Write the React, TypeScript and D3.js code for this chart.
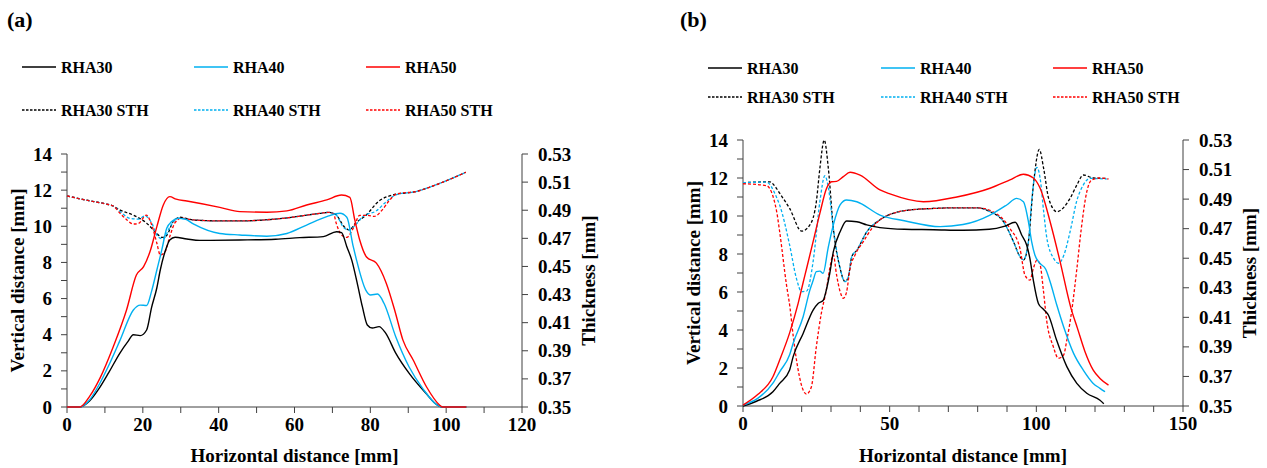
import React from 'react';
import * as d3 from 'd3';

type Pt = [number, number];

// ---- panel (a) : vertical distance [mm] vs horizontal distance [mm]
const rha30A: Pt[] = [[0,0],[3.4,0],[6,0.35],[8.7,1.1],[11,1.9],[14,3.0],[16,3.6],[17.5,4.0],[19.3,3.95],[21,4.26],[22.3,5.5],[23.7,6.6],[24.6,7.58],[26.3,8.87],[27.1,9.24],[28.5,9.39],[31.6,9.3],[35,9.22],[45.6,9.24],[55,9.28],[61.4,9.37],[67.6,9.43],[71.1,9.7],[72.4,9.65],[73.8,8.87],[75.1,8.13],[76.5,6.9],[77.9,5.55],[79.2,4.54],[80.5,4.37],[82.3,4.45],[84,4.1],[86.7,2.98],[90.2,1.87],[94.6,0.77],[97.7,0.1],[99,0],[105.3,0]];
const rha40A: Pt[] = [[0,0],[3.4,0],[6,0.4],[8.7,1.33],[11,2.3],[14,3.7],[17.5,5.37],[19.3,5.64],[21,5.62],[22.3,6.4],[23.7,7.58],[25,8.69],[26.3,9.89],[27.6,10.26],[29.4,10.44],[31.1,10.4],[33.3,10.13],[40.3,9.6],[45.6,9.52],[52.7,9.45],[58,9.6],[63.2,10.07],[68.5,10.53],[72,10.72],[73.8,10.5],[75.5,8.87],[76.4,8.1],[78.8,6.47],[80.1,6.2],[81.9,6.25],[83.6,5.74],[86.7,3.89],[90.2,2.23],[93.8,1.03],[97.7,0.1],[99,0],[105.3,0]];
const rha50A: Pt[] = [[0,0],[3.4,0],[6,0.6],[8.7,1.6],[12.2,3.34],[15.7,5.37],[18.3,7.3],[20.2,7.77],[21.9,8.6],[23.7,9.98],[25.4,11.18],[27.1,11.64],[28.8,11.5],[31.6,11.4],[40.3,11.05],[45.6,10.81],[52.7,10.78],[58,10.85],[63.2,11.18],[68.5,11.46],[72.4,11.73],[74.6,11.6],[75.9,10.35],[77.2,9.24],[79,8.3],[81.6,7.96],[84.2,6.85],[86.5,5.3],[88.6,3.7],[91.3,2.6],[94.8,1.12],[98.3,0.1],[99,0],[105.3,0]];

// thickness [mm]
const sth30A: Pt[] = [[0,0.5002],[5,0.4972],[10,0.4946],[12.2,0.4930],[14,0.4901],[17.5,0.4865],[21,0.4808],[23.7,0.4734],[25,0.4707],[26.3,0.4721],[28,0.4819],[29.8,0.4850],[33.3,0.4831],[40.3,0.4824],[45.6,0.4824],[56.8,0.4842],[66.8,0.4878],[69.1,0.4885],[70.9,0.4869],[73.1,0.4783],[74.4,0.4760],[76.2,0.4811],[78.8,0.4863],[82.3,0.4966],[85.8,0.5008],[92,0.5033],[98,0.5088],[105.2,0.5170]];
const sth40A: Pt[] = [[0,0.5002],[5,0.4972],[10,0.4946],[12.2,0.4930],[13.8,0.4895],[16.6,0.4842],[18.8,0.4837],[20.6,0.4859],[22.3,0.4811],[24,0.4712],[25.4,0.4696],[27.1,0.4779],[29.4,0.4844],[33.3,0.4831],[40.3,0.4824],[45.6,0.4824],[56.8,0.4842],[66.8,0.4878],[69.1,0.4885],[70.9,0.4869],[73.1,0.4773],[74.4,0.4760],[76.2,0.4799],[78,0.4854],[81.6,0.4896],[84.2,0.4961],[86.9,0.5011],[92,0.5033],[98,0.5088],[105.2,0.5170]];
const sth50A: Pt[] = [[0,0.5002],[5,0.4972],[10,0.4946],[12.2,0.4930],[14,0.4878],[15.8,0.4831],[17.5,0.4802],[18.8,0.4805],[20.9,0.4865],[22.3,0.4799],[23.7,0.4665],[24.6,0.4581],[25.9,0.4606],[27.1,0.4712],[28.5,0.4811],[30.2,0.4844],[33.3,0.4831],[40.3,0.4824],[45.6,0.4824],[56.8,0.4842],[66.8,0.4878],[69.1,0.4885],[70.3,0.4876],[71,0.4808],[72.4,0.4724],[73.8,0.4707],[75.5,0.4773],[77.2,0.4863],[79.3,0.4863],[81,0.4856],[83.1,0.4901],[84.9,0.4966],[87,0.5017],[92,0.5033],[98,0.5088],[105.2,0.5170]];

// ---- panel (b)
const rha30B: Pt[] = [[0,0],[4.6,0.25],[10.2,0.75],[12.5,1.19],[15.9,1.9],[17.1,2.6],[20.5,3.82],[23.9,5.05],[25.6,5.4],[27.3,5.55],[28.4,6.1],[29.6,7.0],[30.8,8.12],[33.1,9.17],[35.3,9.74],[38.8,9.7],[42.2,9.53],[46.7,9.39],[55,9.3],[65,9.28],[75,9.25],[84,9.3],[89,9.45],[92.8,9.67],[95,9.0],[96.7,8.47],[97.8,7.77],[99,6.6],[100.7,5.4],[102.4,5.09],[104.1,4.79],[106.9,3.47],[110.4,2.07],[113.8,1.19],[117.2,0.67],[121.7,0.3],[123,0.12]];
const rha40B: Pt[] = [[0,0.05],[5,0.4],[10.2,1.2],[12.5,1.8],[15.9,2.7],[17.1,3.3],[20.5,4.7],[22.8,6.1],[23.9,6.6],[25,7.07],[26.2,7.1],[27.3,6.98],[29,8.3],[30.8,9.53],[33.1,10.58],[35.3,10.84],[38.8,10.75],[46.7,10.05],[55,9.75],[67.2,9.44],[75,9.55],[84.2,10.05],[89.9,10.58],[93.3,10.93],[95.6,10.75],[97.3,9.7],[98.4,8.65],[99.5,7.95],[101.3,7.5],[103.2,7.2],[104.7,6.54],[107,5.3],[109.3,4.17],[112.7,2.77],[116,1.89],[119.4,1.19],[121.7,0.93],[123.4,0.75]];
const rha50B: Pt[] = [[0,0.05],[5,0.6],[10.2,1.54],[12.5,2.42],[15.9,3.85],[18.8,5.4],[20.5,6.5],[21.7,7.25],[23.9,8.65],[26.2,10.14],[28.5,11.46],[30.2,11.8],[31.9,11.82],[34.2,12.07],[36.5,12.3],[39.9,12.15],[46.7,11.37],[50.1,11.16],[61.5,10.75],[72.9,11.0],[84.2,11.46],[91,11.9],[95.6,12.2],[99,12.0],[101.3,11.46],[104.7,9.7],[108.1,7.6],[111.8,5.15],[114,4.1],[116.5,2.9],[119.4,1.89],[121.7,1.45],[124.6,1.1]];

const sth30B: Pt[] = [[0,0.5011],[9.1,0.5017],[11.4,0.4973],[12.5,0.4940],[15.9,0.4837],[20,0.4683],[22.8,0.4725],[25,0.4882],[26.2,0.5107],[27.7,0.5300],[29.1,0.5107],[30.8,0.4702],[33.1,0.4432],[34.8,0.4341],[35.9,0.4374],[37.1,0.4511],[38.8,0.4554],[42.2,0.4679],[46.7,0.4760],[55.8,0.4824],[65,0.4837],[72.9,0.4841],[80,0.4841],[84.2,0.4815],[88.8,0.4747],[92.2,0.4612],[94.4,0.4511],[95.6,0.4487],[97.3,0.4612],[99,0.4995],[101,0.5236],[102.5,0.5107],[104.2,0.4905],[107,0.4815],[111.5,0.4905],[113.8,0.4995],[116,0.5063],[119.4,0.5043],[124,0.5040]];
const sth40B: Pt[] = [[0,0.5011],[8,0.5015],[11.4,0.4914],[12.5,0.4860],[15.9,0.4589],[18.2,0.4364],[20,0.4274],[21.7,0.4278],[23.9,0.4477],[26.2,0.4882],[27.9,0.5058],[29.1,0.4979],[30.8,0.4702],[33.1,0.4432],[34.8,0.4341],[35.9,0.4374],[37.1,0.4511],[38.8,0.4554],[42.2,0.4679],[46.7,0.4760],[55.8,0.4824],[65,0.4837],[72.9,0.4841],[80,0.4841],[84.2,0.4815],[88.8,0.4747],[92.2,0.4612],[94.4,0.4511],[95.6,0.4490],[97.3,0.4612],[98.4,0.4882],[100.2,0.5115],[101.3,0.5040],[102.5,0.4815],[103.6,0.4634],[105.9,0.4499],[107.6,0.4466],[109.3,0.4516],[111.5,0.4679],[113.8,0.4889],[116,0.4995],[118.3,0.5040],[124,0.5036]];
const sth50B: Pt[] = [[0,0.5004],[8,0.4991],[11.4,0.4824],[12.5,0.4679],[14.8,0.4323],[16,0.4169],[17.1,0.3976],[18.8,0.3744],[20.5,0.3608],[21.6,0.3581],[23.3,0.3629],[25,0.3901],[26.7,0.4127],[28.4,0.4284],[29.6,0.4433],[30.8,0.4522],[31.9,0.4387],[33.1,0.4274],[34.2,0.4229],[35.3,0.4271],[36.5,0.4432],[38.2,0.4522],[41,0.4612],[44.4,0.4714],[46.7,0.4760],[55.8,0.4824],[65,0.4837],[72.9,0.4841],[80,0.4841],[84.2,0.4824],[91,0.4702],[94.4,0.4567],[96.1,0.4387],[97.8,0.4352],[99,0.4432],[100.2,0.4487],[101.3,0.4454],[102.4,0.4284],[103.5,0.4082],[105.8,0.3901],[107.5,0.3823],[109.3,0.3845],[110.4,0.3946],[112.1,0.4149],[113.8,0.4426],[115.3,0.4696],[117.2,0.4950],[118.9,0.5030],[121.7,0.5043],[124.6,0.5036]];

const seriesNames = ['RHA30', 'RHA40', 'RHA50'];
const seriesColors = ['#000000', '#00b0f0', '#ff0000'];
const distTicks = d3.range(0, 15, 1);
const thickTicks = d3.range(10).map((i) => 0.35 + 0.02 * i);

const FONT = '"Liberation Serif", "Times New Roman", serif';

type PanelProps = {
  tag: string;
  tagX: number;
  box: { left: number; right: number; top: number; bottom: number };
  xMax: number;
  xLabelStep: number;
  solids: Pt[][];
  dashed: Pt[][];
  legendCols: number[];
  legendRows: number[];
};

const Panel = ({ tag, tagX, box, xMax, xLabelStep, solids, dashed, legendCols, legendRows }: PanelProps) => {
  const x = d3.scaleLinear().domain([0, xMax]).range([box.left, box.right]);
  const y = d3.scaleLinear().domain([0, 14]).range([box.bottom, box.top]);
  const t = d3.scaleLinear().domain([0.35, 0.53]).range([box.bottom, box.top]);

  const lineY = d3.line<Pt>().x((d) => x(d[0])).y((d) => y(d[1])).curve(d3.curveMonotoneX);
  const lineT = d3.line<Pt>().x((d) => x(d[0])).y((d) => t(d[1])).curve(d3.curveMonotoneX);

  const xTicks = d3.range(0, xMax + 0.1, 10);
  const axisColor = '#404040';
  const midY = (box.top + box.bottom) / 2;
  const midX = (box.left + box.right) / 2;

  return (
    <g fontFamily={FONT} fontWeight="bold" fill="#000">
      <text x={tagX} y={27} fontSize={22}>{tag}</text>

      {seriesNames.map((name, i) => (
        <g key={name}>
          <line x1={legendCols[i]} x2={legendCols[i] + 34} y1={legendRows[0]} y2={legendRows[0]}
            stroke={seriesColors[i]} strokeWidth={1.5} />
          <text x={legendCols[i] + 39} y={legendRows[0] + 6} fontSize={16}>{name}</text>
          <line x1={legendCols[i]} x2={legendCols[i] + 34} y1={legendRows[1]} y2={legendRows[1]}
            stroke={seriesColors[i]} strokeWidth={1.3} strokeDasharray="2.5 1.5" />
          <text x={legendCols[i] + 39} y={legendRows[1] + 6} fontSize={16}>{name} STH</text>
        </g>
      ))}

      {/* axes */}
      <line x1={box.left} x2={box.left} y1={box.top} y2={box.bottom} stroke={axisColor} />
      <line x1={box.right} x2={box.right} y1={box.top} y2={box.bottom} stroke={axisColor} />
      <line x1={box.left} x2={box.right} y1={box.bottom} y2={box.bottom} stroke={axisColor} />

      {xTicks.map((v) => (
        <g key={`x${v}`}>
          <line x1={x(v)} x2={x(v)} y1={box.bottom} y2={box.bottom + 6} stroke={axisColor} />
          {v % xLabelStep === 0 && (
            <text x={x(v)} y={box.bottom + 24} fontSize={19} textAnchor="middle">{v}</text>
          )}
        </g>
      ))}
      {distTicks.map((v) => (
        <g key={`y${v}`}>
          <line x1={box.left - 6} x2={box.left} y1={y(v)} y2={y(v)} stroke={axisColor} />
          {v % 2 === 0 && (
            <text x={box.left - 15} y={y(v) + 6.5} fontSize={19} textAnchor="end">{v}</text>
          )}
        </g>
      ))}
      {thickTicks.map((v) => (
        <g key={`t${v}`}>
          <line x1={box.right} x2={box.right + 6} y1={t(v)} y2={t(v)} stroke={axisColor} />
          <text x={box.right + 16} y={t(v) + 6.5} fontSize={19}>{v.toFixed(2)}</text>
        </g>
      ))}

      <text transform={`translate(${box.left - 43},${midY}) rotate(-90)`} fontSize={19} textAnchor="middle">
        Vertical distance [mm]
      </text>
      <text transform={`translate(${box.right + 73},${midY}) rotate(-90)`} fontSize={19} textAnchor="middle">
        Thickness [mm]
      </text>
      <text x={midX} y={462} fontSize={19} textAnchor="middle">Horizontal distance [mm]</text>

      {dashed.map((d, i) => (
        <path key={`d${i}`} d={lineT(d) ?? ''} fill="none" stroke={seriesColors[i]}
          strokeWidth={1.3} strokeDasharray="3 2" />
      ))}
      {solids.map((d, i) => (
        <path key={`s${i}`} d={lineY(d) ?? ''} fill="none" stroke={seriesColors[i]} strokeWidth={1.4} />
      ))}
    </g>
  );
};

export default function App() {
  return (
    <svg width={1267} height={468} style={{ position: 'absolute', left: 0, top: 0, background: '#fff' }}>
      <Panel
        tag="(a)"
        tagX={7}
        box={{ left: 67, right: 522, top: 154, bottom: 407 }}
        xMax={120}
        xLabelStep={20}
        solids={[rha30A, rha40A, rha50A]}
        dashed={[sth30A, sth40A, sth50A]}
        legendCols={[22, 194, 366]}
        legendRows={[67, 110]}
      />
      <Panel
        tag="(b)"
        tagX={680}
        box={{ left: 743, right: 1183, top: 140, bottom: 406 }}
        xMax={150}
        xLabelStep={50}
        solids={[rha30B, rha40B, rha50B]}
        dashed={[sth30B, sth40B, sth50B]}
        legendCols={[708, 881, 1053]}
        legendRows={[68, 97]}
      />
    </svg>
  );
}
